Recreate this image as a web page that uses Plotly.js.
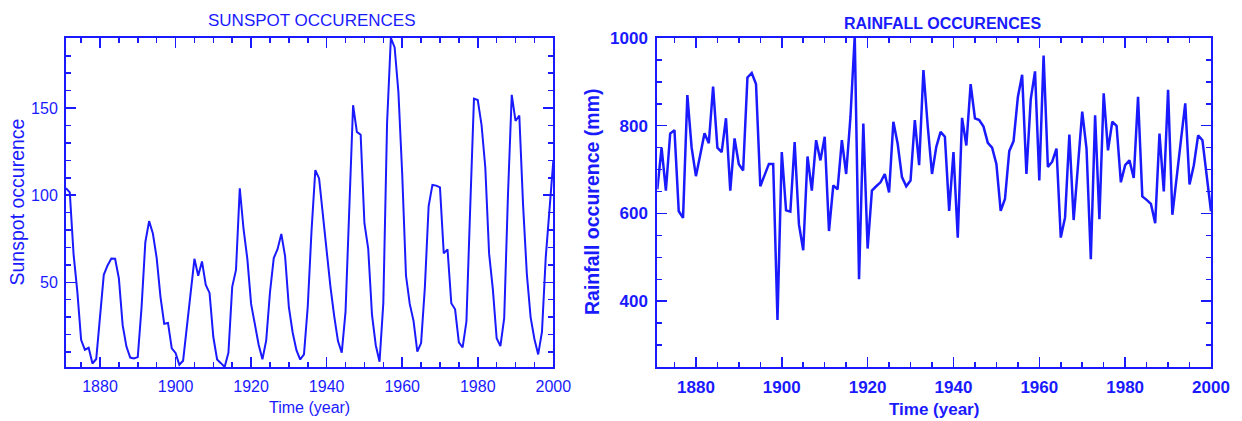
<!DOCTYPE html>
<html>
<head>
<meta charset="utf-8">
<script src="https://cdn.plot.ly/plotly-3.0.1.min.js"></script>
<style>
  html, body { margin: 0; padding: 0; background: #ffffff; }
  #chart { width: 1242px; height: 421px; }
</style>
</head>
<body>
<div id="chart"></div>
<script>
// ---- Data ----
const years = [
  1871,1872,1873,1874,1875,1876,1877,1878,1879,1880,
  1881,1882,1883,1884,1885,1886,1887,1888,1889,1890,
  1891,1892,1893,1894,1895,1896,1897,1898,1899,1900,
  1901,1902,1903,1904,1905,1906,1907,1908,1909,1910,
  1911,1912,1913,1914,1915,1916,1917,1918,1919,1920,
  1921,1922,1923,1924,1925,1926,1927,1928,1929,1930,
  1931,1932,1933,1934,1935,1936,1937,1938,1939,1940,
  1941,1942,1943,1944,1945,1946,1947,1948,1949,1950,
  1951,1952,1953,1954,1955,1956,1957,1958,1959,1960,
  1961,1962,1963,1964,1965,1966,1967,1968,1969,1970,
  1971,1972,1973,1974,1975,1976,1977,1978,1979,1980,
  1981,1982,1983,1984,1985,1986,1987,1988,1989,1990,
  1991,1992,1993,1994,1995,1996,1997,1998,1999,2000
];

const sunspots = [
  104.0,101.6,66.2,44.7,17.0,11.3,12.4,3.4,6.0,32.3,
  54.3,59.7,63.7,63.5,52.2,25.4,13.1,6.8,6.3,7.1,
  35.6,73.0,85.1,78.0,64.0,41.8,26.2,26.7,12.1,9.5,
  2.7,5.0,24.4,42.0,63.5,53.8,62.0,48.5,43.9,18.6,
  5.7,3.6,1.4,9.6,47.4,57.1,103.9,80.6,63.6,37.6,
  26.1,14.2,5.8,16.7,44.3,63.9,69.0,77.8,64.9,35.7,
  21.2,11.1,5.7,8.7,36.1,79.7,114.4,109.6,88.8,67.8,
  47.5,30.6,16.3,9.6,33.2,92.6,151.6,136.3,134.7,83.9,
  69.4,31.5,13.9,4.4,38.0,141.7,190.2,184.8,159.0,112.3,
  53.9,37.6,27.9,10.2,15.1,47.0,93.8,105.9,105.5,104.5,
  66.6,68.9,38.0,34.5,15.5,12.6,27.5,92.5,155.4,154.6,
  140.4,115.9,66.6,45.9,17.9,13.4,29.4,100.2,157.6,142.6,
  145.7,94.3,54.6,29.9,17.5,8.6,21.5,64.3,93.3,119.6
];

const rainfall = [
  655,750,652,782,790,605,590,870,750,685,
  733,783,760,889,750,740,817,652,771,712,
  698,910,920,895,662,688,713,713,357,740,
  607,604,763,575,516,730,652,767,721,775,
  560,664,655,767,690,820,1005,450,805,520,
  652,662,671,690,648,809,759,683,662,675,
  813,710,927,800,690,752,786,775,606,740,
  545,818,755,895,817,813,798,761,750,713,
  606,633,742,765,865,916,690,860,924,675,
  960,706,718,748,545,591,780,585,702,832,
  748,496,824,587,874,744,809,800,671,710,
  721,681,866,639,631,622,578,782,650,882,
  597,687,767,851,666,710,778,767,680,605
];

const sunspotTicks = [50, 100, 150];
const rainfallTicks = [400, 600, 800, 1000];
const yearTicks = [1880, 1900, 1920, 1940, 1960, 1980, 2000];

// ---- Style ----
const C = '#1a1aff';
const FONT_L = 'Liberation Sans, Arial, sans-serif';

function baseAxis(extra) {
  return Object.assign({
    showline: true, linecolor: C, linewidth: 2, mirror: 'allticks',
    ticks: 'inside', ticklen: 10, tickwidth: 1.5, tickcolor: C,
    showgrid: false, zeroline: false, automargin: false, fixedrange: true,
    tickfont: { family: FONT_L, size: 16, color: C }
  }, extra);
}

const traces = [
  { x: years, y: sunspots, type: 'scatter', mode: 'lines',
    line: { color: C, width: 2 }, xaxis: 'x', yaxis: 'y', hoverinfo: 'skip' },
  { x: years, y: rainfall, type: 'scatter', mode: 'lines',
    line: { color: C, width: 2.5 }, xaxis: 'x2', yaxis: 'y2', hoverinfo: 'skip' }
];

const PW = 1145, PH = 329, L = 66, T = 38;
function px2x(p) { return (p - L) / PW; }
function py2y(p) { return (T + PH - p) / PH; }

const layout = {
  width: 1242, height: 421,
  paper_bgcolor: '#ffffff', plot_bgcolor: '#ffffff',
  margin: { l: L, r: 1242 - L - PW, t: T, b: 421 - T - PH, pad: 0 },
  showlegend: false,
  xaxis: baseAxis({ domain: [0, px2x(553.3)], anchor: 'y', range: [1871, 2000],
    tickvals: yearTicks, ticktext: yearTicks.map(String), ticklabelstandoff: 4,
    minor: { ticks: 'inside', ticklen: 5, tickwidth: 1.5, tickcolor: C, dtick: 5, tick0: 1870, showgrid: false } }),
  yaxis: baseAxis({ domain: [0, 1], anchor: 'x', range: [1.4, 190.2],
    tickvals: sunspotTicks, ticktext: sunspotTicks.map(String), ticklabelstandoff: 3,
    minor: { ticks: 'inside', ticklen: 5, tickwidth: 1.5, tickcolor: C, dtick: 10, tick0: 0, showgrid: false } }),
  xaxis2: baseAxis({ domain: [px2x(657.3), 1], anchor: 'y2', range: [1871, 2000],
    tickvals: yearTicks, ticktext: yearTicks.map(String), ticklabelstandoff: 4,
    tickfont: { family: FONT_L, size: 17, color: C, weight: 'bold' },
    minor: { ticks: 'inside', ticklen: 5, tickwidth: 1.5, tickcolor: C, dtick: 5, tick0: 1870, showgrid: false } }),
  yaxis2: baseAxis({ domain: [0, 1], anchor: 'x2', range: [250, 1000],
    tickvals: rainfallTicks, ticktext: rainfallTicks.map(String), ticklabelstandoff: 4,
    tickfont: { family: FONT_L, size: 17, color: C, weight: 'bold' },
    minor: { ticks: 'inside', ticklen: 5, tickwidth: 1.5, tickcolor: C, dtick: 50, tick0: 0, showgrid: false } }),
  annotations: [
    { text: 'SUNSPOT OCCURENCES', xref: 'paper', yref: 'paper', x: px2x(312), y: py2y(21),
      xanchor: 'center', yanchor: 'middle', showarrow: false,
      font: { family: FONT_L, size: 17, color: C } },
    { text: 'Time (year)', xref: 'paper', yref: 'paper', x: px2x(309), y: py2y(407),
      xanchor: 'center', yanchor: 'middle', showarrow: false,
      font: { family: FONT_L, size: 16, color: C } },
    { text: 'Sunspot occurence', xref: 'paper', yref: 'paper', x: px2x(16), y: py2y(202.5),
      xanchor: 'center', yanchor: 'middle', showarrow: false, textangle: -90,
      font: { family: FONT_L, size: 19.5, color: C } },
    { text: 'RAINFALL OCCURENCES', xref: 'paper', yref: 'paper', x: px2x(942), y: py2y(23),
      xanchor: 'center', yanchor: 'middle', showarrow: false,
      font: { family: FONT_L, size: 16, color: C, weight: 'bold' } },
    { text: 'Time (year)', xref: 'paper', yref: 'paper', x: px2x(933.5), y: py2y(409),
      xanchor: 'center', yanchor: 'middle', showarrow: false,
      font: { family: FONT_L, size: 17, color: C, weight: 'bold' } },
    { text: 'Rainfall occurence (mm)', xref: 'paper', yref: 'paper', x: px2x(591.5), y: py2y(202.5),
      xanchor: 'center', yanchor: 'middle', showarrow: false, textangle: -90,
      font: { family: FONT_L, size: 19.5, color: C, weight: 'bold' } }
  ]
};

Plotly.newPlot('chart', traces, layout, { displayModeBar: false, staticPlot: true });
</script>
</body>
</html>
